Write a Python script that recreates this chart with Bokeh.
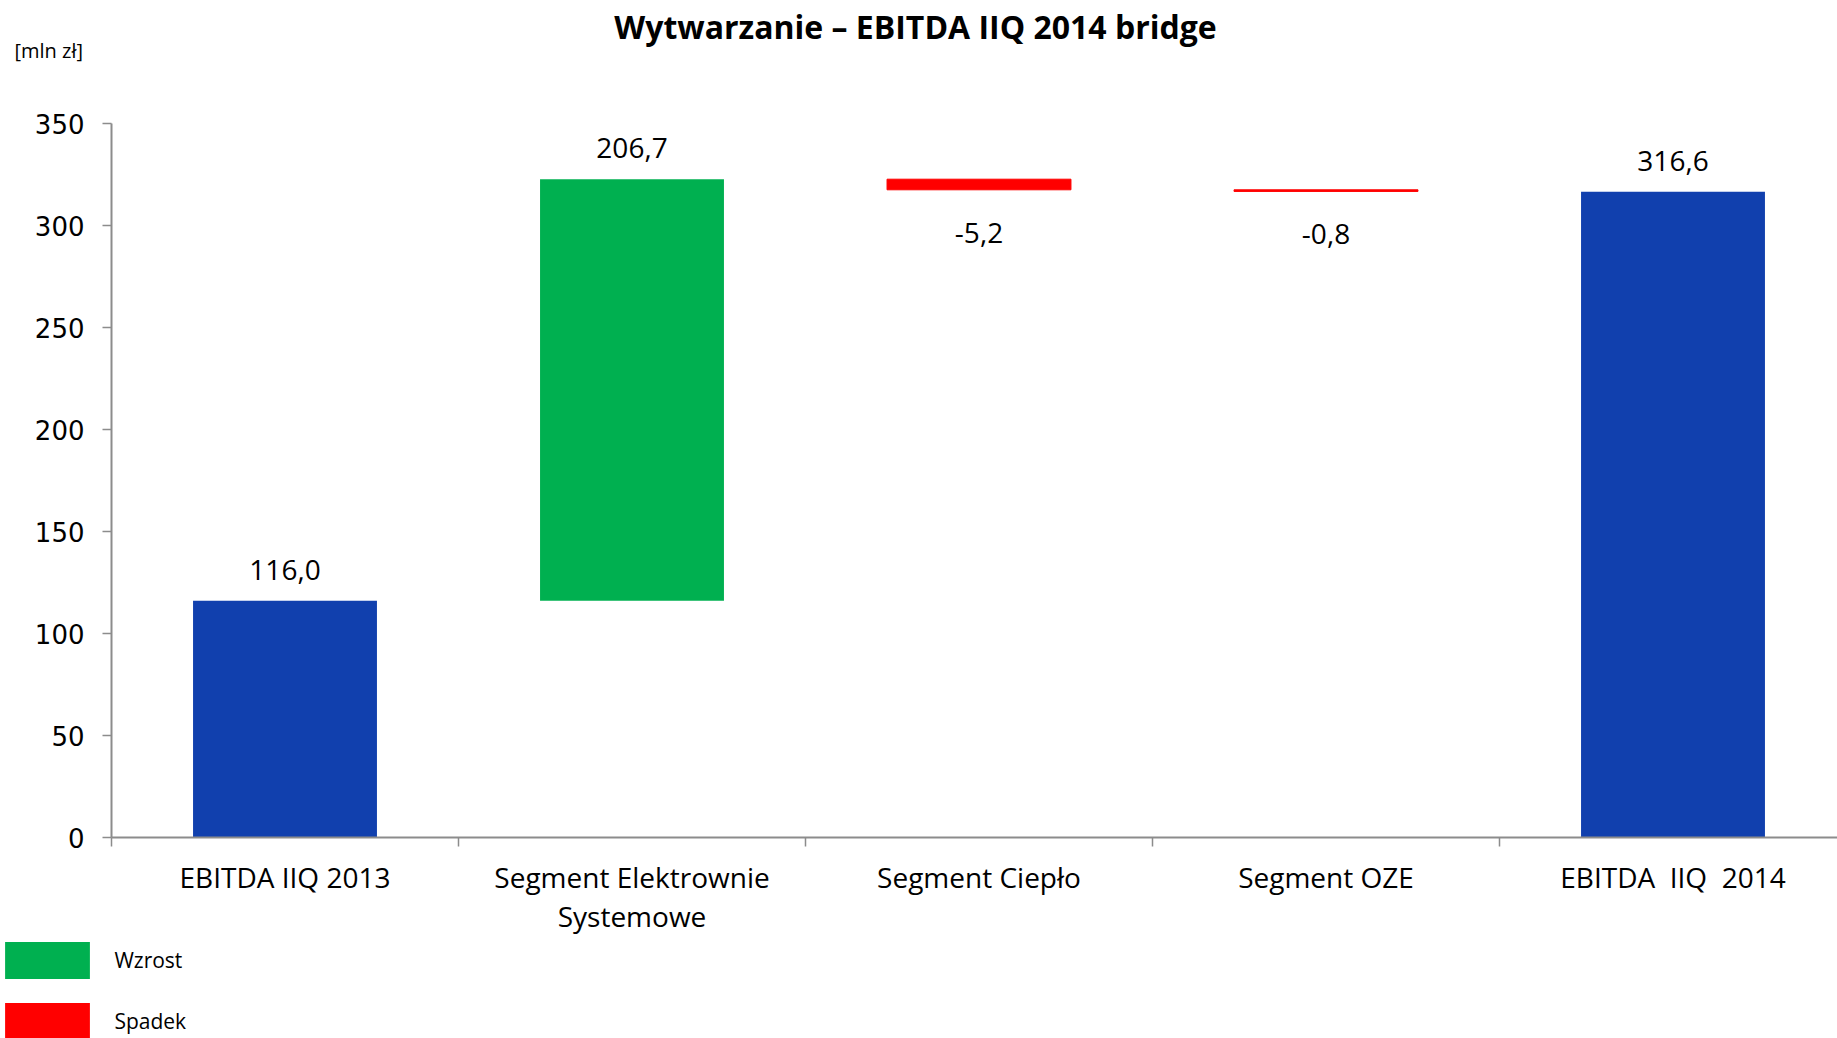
from bokeh.plotting import figure
from bokeh.layouts import column
from bokeh.models import ColumnDataSource, FixedTicker, Label, Legend, LegendItem, Range1d
from bokeh.core.properties import value
from bokeh.embed import file_html
from bokeh.resources import INLINE

# ---- data ----
categories = ["EBITDA IIQ 2013", "Segment Elektrownie\nSystemowe", "Segment Ciepło",
              "Segment OZE", "EBITDA \u00a0IIQ \u00a02014"]
values = [116.0, 206.7, -5.2, -0.8, 316.6]
is_total = [True, False, False, False, True]
y_ticks = [0, 50, 100, 150, 200, 250, 300, 350]
legend_labels = ["Wzrost", "Spadek"]
title_text = "Wytwarzanie – EBITDA IIQ 2014 bridge"
unit_text = "[mln zł]"

BLUE = "#1140AE"
GREEN = "#00B050"
RED = "#FF0000"
AXIS = "#8C8C8C"
FONT = "Open Sans"

# ---- waterfall geometry from data ----
groups = {"total": dict(x=[], bottom=[], top=[]),
          "up": dict(x=[], bottom=[], top=[]),
          "down": dict(x=[], bottom=[], top=[])}
lab_pos = dict(x=[], y=[], text=[])
lab_neg = dict(x=[], y=[], text=[])
run = 0.0
for i, (v, tot) in enumerate(zip(values, is_total)):
    xc = i + 0.5
    if tot:
        b, t = 0.0, v
        run = v
        g = "total"
    else:
        b, t = run, run + v
        run = run + v
        g = "up" if v >= 0 else "down"
    groups[g]["x"].append(xc)
    groups[g]["bottom"].append(min(b, t))
    groups[g]["top"].append(max(b, t))
    txt = f"{v:.1f}".replace(".", ",")
    if v >= 0:
        lab_pos["x"].append(xc); lab_pos["y"].append(max(b, t)); lab_pos["text"].append(txt)
    else:
        lab_neg["x"].append(xc); lab_neg["y"].append(min(b, t)); lab_neg["text"].append(txt)

src_tot = ColumnDataSource(groups["total"])
src_up = ColumnDataSource(groups["up"])
src_dn = ColumnDataSource(groups["down"])

W = 1837
H_MAIN, H_LEG = 942, 96
ML, MT = 111, 123
MB = H_MAIN - 837
frame_w = W - ML
cat_px = 347.0

p = figure(width=W, height=H_MAIN, output_backend="svg", toolbar_location=None,
           x_range=Range1d(0, frame_w / cat_px), y_range=Range1d(0, 350),
           min_border_left=ML, min_border_right=0, min_border_top=MT, min_border_bottom=MB)
p.frame_align = False
p.outline_line_color = None
p.grid.visible = False
p.background_fill_color = "white"
p.border_fill_color = "white"

bw = 0.53
r_tot = p.vbar(x="x", bottom="bottom", top="top", width=bw, source=src_tot,
               fill_color=BLUE, line_color=None)
r_up = p.vbar(x="x", bottom="bottom", top="top", width=bw, source=src_up,
              fill_color=GREEN, line_color=None)
r_dn = p.vbar(x="x", bottom="bottom", top="top", width=bw, source=src_dn,
              fill_color=RED, line_color=RED, line_width=1)

p.text(x="x", y="y", text="text", source=ColumnDataSource(lab_pos), text_align="center",
       text_baseline="bottom", y_offset=-21, text_font=value(FONT), text_font_size="28px",
       text_color="black")
p.text(x="x", y="y", text="text", source=ColumnDataSource(lab_neg), text_align="center",
       text_baseline="top", y_offset=33, text_font=value(FONT), text_font_size="28px",
       text_color="black")

# ---- axes ----
xa = p.xaxis[0]
xa.ticker = FixedTicker(ticks=[i + 0.5 for i in range(len(categories))],
                        minor_ticks=list(range(len(categories) + 1)))
xa.major_label_overrides = {i + 0.5: c for i, c in enumerate(categories)}
xa.major_tick_out = 0
xa.major_tick_in = 0
xa.minor_tick_out = 9
xa.minor_tick_in = 0
xa.minor_tick_line_color = AXIS
xa.minor_tick_line_width = 1.5
xa.axis_line_color = AXIS
xa.axis_line_width = 2
xa.major_label_text_font = FONT
xa.major_label_text_font_size = "28px"
xa.major_label_text_color = "black"
xa.major_label_text_line_height = 1.05
xa.major_label_standoff = 11

ya = p.yaxis[0]
ya.ticker = FixedTicker(ticks=y_ticks, minor_ticks=[])
ya.major_tick_out = 9
ya.major_tick_in = 0
ya.major_tick_line_color = AXIS
ya.major_tick_line_width = 1.5
ya.axis_line_color = AXIS
ya.axis_line_width = 2
ya.major_label_text_font = "DejaVu Sans"
ya.major_label_text_font_size = "26px"
ya.major_label_text_color = "black"
ya.major_label_standoff = 18

# ---- title & unit (side panel, canvas coordinates) ----
p.add_layout(Label(x=915, y=26, x_units="canvas", y_units="canvas", text=title_text,
                   text_align="center", text_baseline="middle", text_font=FONT,
                   text_font_size="32px", text_font_style="bold", text_color="black"), "above")
p.add_layout(Label(x=14, y=50, x_units="canvas", y_units="canvas", text=unit_text,
                   text_align="left", text_baseline="middle", text_font=FONT,
                   text_font_size="20px", text_color="black"), "above")

# ---- legend strip (separate figure under the chart) ----
q = figure(width=W, height=H_LEG, output_backend="svg", toolbar_location=None,
           x_range=Range1d(-10, -9), y_range=Range1d(-10, -9),
           min_border=0, x_axis_location=None, y_axis_location=None)
q.frame_align = False
q.outline_line_color = None
q.grid.visible = False
q.background_fill_color = "white"
q.border_fill_color = "white"
lg_up = q.vbar(x="x", bottom="bottom", top="top", width=bw, source=src_up,
               fill_color=GREEN, line_color=None)
lg_dn = q.vbar(x="x", bottom="bottom", top="top", width=bw, source=src_dn,
               fill_color=RED, line_color=None)
legend = Legend(items=[LegendItem(label=legend_labels[0], renderers=[lg_up]),
                       LegendItem(label=legend_labels[1], renderers=[lg_dn])],
                location=(-5.6, -6.4), orientation="vertical",
                glyph_width=106, glyph_height=46, spacing=15, label_standoff=14,
                label_text_font=FONT, label_text_font_size="21px", label_text_color="black",
                padding=0, margin=0, border_line_color=None, background_fill_alpha=0)
q.add_layout(legend)

open("out.html", "w").write(file_html(column(p, q, spacing=0), INLINE))
